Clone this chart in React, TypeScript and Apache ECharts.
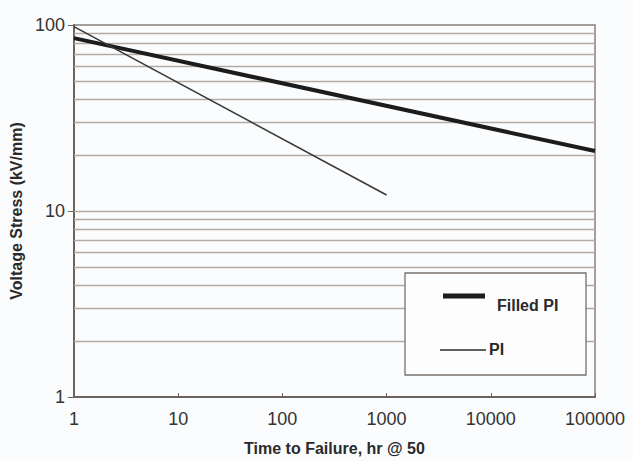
import React, { useEffect, useRef } from "react";
import * as echarts from "echarts";

// Time to failure (hr) and voltage stress (kV/mm)
const filledPiTime = [1, 100000];
const filledPiStress = [85, 21];
const piTime = [1, 1000];
const piStress = [98, 12.2];
const gridValues = [2, 3, 4, 5, 6, 7, 8, 9, 10, 20, 30, 40, 50, 60, 70, 80, 90];
const seriesNames = ["Filled PI", "PI"];

const FONT = "'Liberation Sans', Arial, Helvetica, sans-serif";

export default function App() {
  const ref = useRef<HTMLDivElement>(null);
  useEffect(() => {
    if (!ref.current) return;
    const chart = echarts.init(ref.current, null, { renderer: "svg" });
    const axisColor = "#6e625c";
    chart.setOption({
      animation: false,
      backgroundColor: "#fbfcfd",
      grid: {
        left: 67,
        top: 25,
        right: 38,
        bottom: 64,
        show: true,
        borderColor: "#8a7f79",
        borderWidth: 1.5,
        backgroundColor: "transparent",
      },
      xAxis: {
        type: "log",
        logBase: 10,
        min: 1,
        max: 100000,
        name: "Time to Failure, hr @ 50",
        nameLocation: "middle",
        nameGap: 43,
        nameTextStyle: { fontFamily: FONT, fontWeight: "bold", fontSize: 16, color: "#2a2a2a" },
        axisLine: { show: true, lineStyle: { color: axisColor, width: 2 } },
        axisTick: { show: true, inside: true, length: 4, lineStyle: { color: axisColor } },
        axisLabel: {
          fontFamily: FONT,
          fontSize: 18,
          color: "#333333",
          margin: 13,
          formatter: (v: number) => String(Math.round(v)),
        },
        splitLine: { show: false },
      },
      yAxis: {
        type: "log",
        logBase: 10,
        min: 1,
        max: 100,
        name: "Voltage Stress (kV/mm)",
        nameLocation: "middle",
        nameRotate: 90,
        nameGap: 45,
        nameTextStyle: { fontFamily: FONT, fontWeight: "bold", fontSize: 16, color: "#2a2a2a" },
        axisLine: { show: true, lineStyle: { color: axisColor, width: 2 } },
        axisTick: { show: true, length: 6, lineStyle: { color: axisColor } },
        axisLabel: {
          fontFamily: FONT,
          fontSize: 18,
          color: "#333333",
          margin: 9,
          formatter: (v: number) => String(Math.round(v)),
        },
        splitLine: { show: false },
      },
      series: [
        {
          name: seriesNames[0],
          type: "line",
          data: filledPiTime.map((t, i) => [t, filledPiStress[i]]),
          symbol: "none",
          lineStyle: { color: "#1c1c1c", width: 4 },
          z: 3,
          markLine: {
            silent: true,
            symbol: ["none", "none"],
            z: 1,
            label: { show: false },
            lineStyle: { color: "#b3aaa4", width: 1.3, type: "solid" },
            data: gridValues.map((v) => ({ yAxis: v })),
          },
        },
        {
          name: seriesNames[1],
          type: "line",
          data: piTime.map((t, i) => [t, piStress[i]]),
          symbol: "none",
          lineStyle: { color: "#3a3a3a", width: 1.6 },
          z: 3,
        },
      ],
      graphic: [
        {
          type: "rect",
          z: 10,
          shape: { x: 405, y: 273, width: 181, height: 102 },
          style: { fill: "#fdfdfd", stroke: "#7a716c", lineWidth: 1.3 },
        },
        {
          type: "line",
          z: 11,
          shape: { x1: 443, y1: 296, x2: 485, y2: 296 },
          style: { stroke: "#1c1c1c", lineWidth: 5 },
        },
        {
          type: "text",
          z: 11,
          x: 497,
          y: 305,
          style: {
            text: seriesNames[0],
            fill: "#2a2a2a",
            font: `bold 16px ${FONT}`,
            verticalAlign: "middle",
          },
        },
        {
          type: "line",
          z: 11,
          shape: { x1: 440, y1: 350, x2: 486, y2: 350 },
          style: { stroke: "#2a2a2a", lineWidth: 1.6 },
        },
        {
          type: "text",
          z: 11,
          x: 489,
          y: 349,
          style: {
            text: seriesNames[1],
            fill: "#2a2a2a",
            font: `bold 16px ${FONT}`,
            verticalAlign: "middle",
          },
        },
      ],
    });
    return () => chart.dispose();
  }, []);
  return <div ref={ref} style={{ width: 633, height: 461, position: "absolute", left: 0, top: 0 }} />;
}
